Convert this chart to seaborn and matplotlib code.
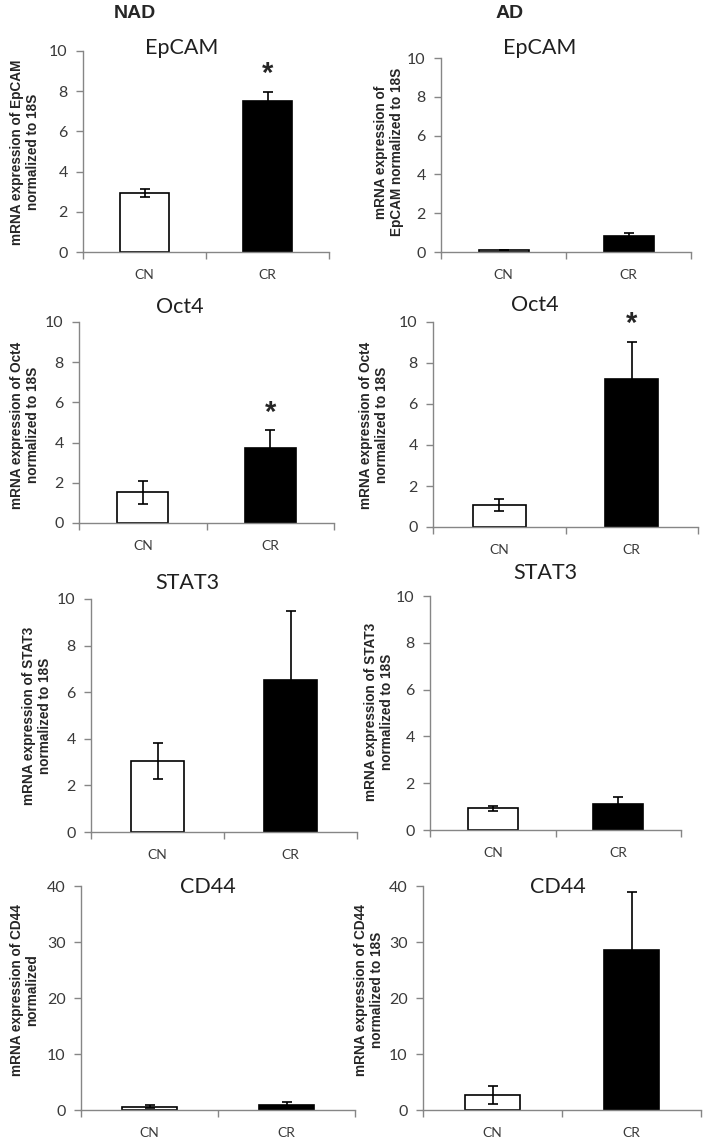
import matplotlib
matplotlib.use("Agg")
import matplotlib.pyplot as plt
import seaborn as sns
import pandas as pd

# ---------------- data ----------------
groups = ["CN", "CR"]
genes = ["EpCAM", "Oct4", "STAT3", "CD44"]
nad_cn = [2.95, 1.52, 3.05, 0.6]
nad_cn_err = [0.19, 0.58, 0.76, 0.25]
nad_cr = [7.52, 3.74, 6.52, 0.9]
nad_cr_err = [0.44, 0.87, 2.96, 0.45]
ad_cn = [0.08, 1.08, 0.92, 2.65]
ad_cn_err = [0.0, 0.31, 0.11, 1.55]
ad_cr = [0.83, 7.2, 1.12, 28.6]
ad_cr_err = [0.13, 1.84, 0.28, 10.3]
nad_sig = [True, True, False, False]
ad_sig = [False, True, False, False]
ymax = [10, 10, 10, 40]
ystep = [2, 2, 2, 10]
nad_ylabels = ["mRNA expression of EpCAM\nnormalized to 18S",
               "mRNA expression of Oct4\nnormalized to 18S",
               "mRNA expression of STAT3\nnormalized to 18S",
               "mRNA expression of CD44\nnormalized"]
ad_ylabels = ["mRNA expression of\nEpCAM normalized to 18S",
              "mRNA expression of Oct4\nnormalized to 18S",
              "mRNA expression of STAT3\nnormalized to 18S",
              "mRNA expression of CD44\nnormalized to 18S"]
bar_colors = ["white", "black"]

# ---------------- layout (pixels) ----------------
W, H = 706, 1141
nad_boxes = [(83, 329, 51, 252), (79, 334, 322, 523), (91, 357, 599, 832), (81, 355, 886, 1110)]
ad_boxes = [(441, 691, 58, 252), (433, 698, 322, 527), (430, 681, 596, 830), (423, 701, 886, 1110)]
nad_title_xy = [(182, 48), (180, 307), (187, 583), (208, 887)]
ad_title_xy = [(540, 48), (535, 305), (545, 573), (558, 887)]
nad_ylab_xy = [(25, 152), (25, 425), (37, 716), (25, 990)]
ad_ylab_xy = [(389, 152), (374, 425), (379, 712), (369, 990)]

sns.set_theme(style="ticks")
plt.rcParams["font.family"] = ["Lato", "DejaVu Sans"]
GREY = "#868686"
TICKTXT = "#3a3a3a"

fig = plt.figure(figsize=(W / 100, H / 100), dpi=100)


def px_axes(l, r, t, b):
    return fig.add_axes([l / W, 1 - b / H, (r - l) / W, (b - t) / H])


def panel(box, gene, cn, cn_e, cr, cr_e, sig, ym, step, ylab, title_xy, ylab_xy):
    ax = px_axes(*box)
    df = pd.DataFrame({"group": groups, "value": [cn, cr]})
    sns.barplot(data=df, x="group", y="value", hue="group", palette=bar_colors,
                edgecolor="black", linewidth=1.2, width=0.4, legend=False,
                errorbar=None, ax=ax, zorder=2)
    ax.errorbar([0, 1], [cn, cr], yerr=[cn_e, cr_e], fmt="none", ecolor="black",
                elinewidth=1.2, capsize=3.5, capthick=1.2, zorder=3)
    ax.set_xlim(-0.5, 1.5)
    ax.set_ylim(0, ym)
    ax.set_yticks(list(range(0, ym + 1, step)))
    ax.set_xticks([-0.5, 0.5, 1.5])
    ax.set_xticklabels([])
    ax.set_xticks([0, 1], minor=True)
    ax.set_xticklabels(groups, minor=True)
    ax.tick_params(axis="x", which="minor", length=0, pad=12, labelsize=10, labelcolor=TICKTXT)
    ax.tick_params(axis="x", which="major", length=5, width=1, color=GREY, bottom=True)
    ax.tick_params(axis="y", length=5, width=1, color=GREY, pad=6, labelsize=11.5,
                   labelcolor=TICKTXT, left=True)
    for s in ["top", "right"]:
        ax.spines[s].set_visible(False)
    for s in ["left", "bottom"]:
        ax.spines[s].set_color(GREY)
        ax.spines[s].set_linewidth(1)
    ax.set_xlabel("")
    ax.set_ylabel("")
    ax.set_facecolor("none")
    if sig:
        ax.annotate("*", xy=(1, cr + cr_e), xytext=(0, 7), textcoords="offset points",
                    ha="center", va="baseline", fontsize=21, fontweight="bold",
                    family=["Liberation Sans", "DejaVu Sans"], annotation_clip=False)
    fig.text(title_xy[0] / W, 1 - title_xy[1] / H, gene, ha="center", va="center",
             fontsize=15.5, color="#202020")
    fig.text(ylab_xy[0] / W, 1 - ylab_xy[1] / H, ylab, ha="center", va="center",
             rotation=90, fontsize=9.8, fontweight="bold", multialignment="center",
             family=["Liberation Sans", "DejaVu Sans"], linespacing=1.1)


for i in range(4):
    panel(nad_boxes[i], genes[i], nad_cn[i], nad_cn_err[i], nad_cr[i], nad_cr_err[i],
          nad_sig[i], ymax[i], ystep[i], nad_ylabels[i], nad_title_xy[i], nad_ylab_xy[i])
    panel(ad_boxes[i], genes[i], ad_cn[i], ad_cn_err[i], ad_cr[i], ad_cr_err[i],
          ad_sig[i], ymax[i], ystep[i], ad_ylabels[i], ad_title_xy[i], ad_ylab_xy[i])

fig.text(135 / W, 1 - 14 / H, "NAD", ha="center", va="center", fontsize=14,
         fontweight="bold", family=["Liberation Sans", "DejaVu Sans"])
fig.text(510 / W, 1 - 14 / H, "AD", ha="center", va="center", fontsize=14,
         fontweight="bold", family=["Liberation Sans", "DejaVu Sans"])

fig.savefig("out.png", dpi=100, facecolor="white")
